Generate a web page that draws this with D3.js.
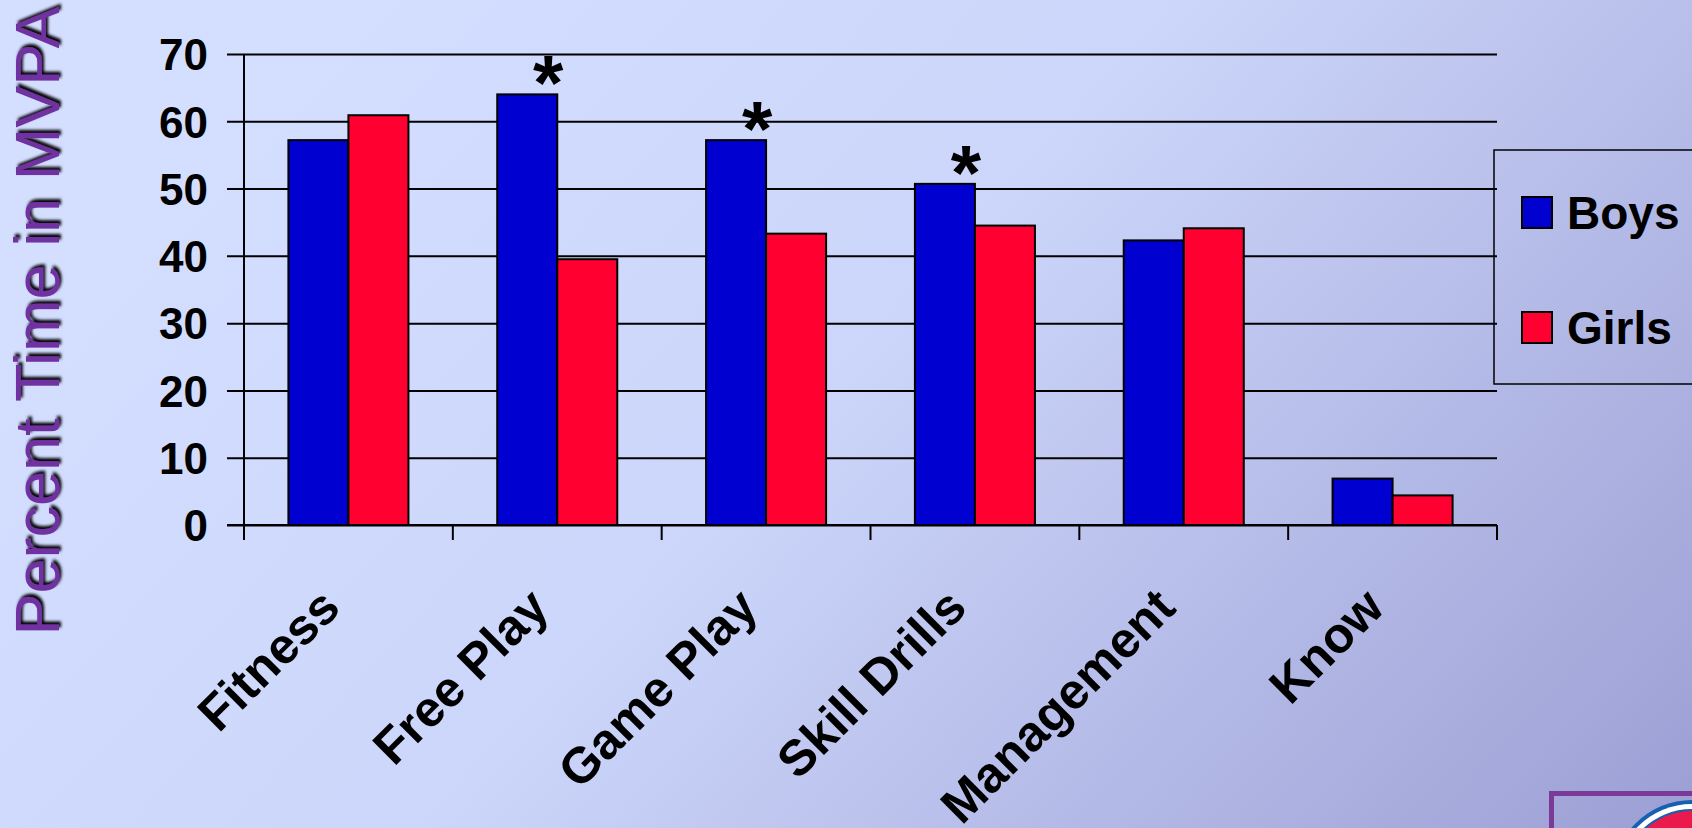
<!DOCTYPE html>
<html>
<head>
<meta charset="utf-8">
<script src="https://cdn.jsdelivr.net/npm/d3@7"></script>
<style>
  html, body { margin: 0; padding: 0; overflow: hidden; }
  svg { display: block; }
  text { font-family: "Liberation Sans", Arial, sans-serif; }
</style>
</head>
<body>
<svg id="chart" width="1692" height="828"></svg>
<script>
// ---- data ----
const categories = ["Fitness", "Free Play", "Game Play", "Skill Drills", "Management", "Know"];
const seriesNames = ["Boys", "Girls"];
const boysValues = [57.2, 64.0, 57.2, 50.7, 42.3, 6.9];
const girlsValues = [60.9, 39.5, 43.3, 44.5, 44.1, 4.4];
const significant = [false, true, true, true, false, false];
const yTickValues = [0, 10, 20, 30, 40, 50, 60, 70];
const yAxisTitle = "Percent Time in MVPA";

(function () {
// ---- layout ----
const W = 1692, H = 828;
const pLeft = 244, pRight = 1497, pTop = 54, pBottom = 525;
const colors = { Boys: "#0000d0", Girls: "#ff0030" };

const svg = d3.select("#chart");
const defs = svg.append("defs");

// background gradient
const bg = defs.append("linearGradient").attr("id", "bg")
  .attr("gradientUnits", "userSpaceOnUse")
  .attr("x1", 300).attr("y1", 0).attr("x2", 1500).attr("y2", 1100);
bg.append("stop").attr("offset", "0").attr("stop-color", "#d4deff");
bg.append("stop").attr("offset", "0.4").attr("stop-color", "#ccd6fa");
bg.append("stop").attr("offset", "1").attr("stop-color", "#9a9cd2");
svg.append("rect").attr("width", W).attr("height", H).attr("fill", "url(#bg)");

const shadow = defs.append("filter").attr("id", "shadow")
  .attr("x", "-10%").attr("y", "-10%").attr("width", "130%").attr("height", "130%");
shadow.append("feDropShadow").attr("dx", 3).attr("dy", 2).attr("stdDeviation", 1.5)
  .attr("flood-color", "#000").attr("flood-opacity", 1);

// scales
const x = d3.scaleBand().domain(categories).range([pLeft, pRight]).paddingInner(0).paddingOuter(0);
const x1 = d3.scaleBand().domain(seriesNames).range([0, x.bandwidth()]).paddingInner(0).paddingOuter(0.74);
const y = d3.scaleLinear().domain([0, 70]).range([pBottom, pTop]);

// gridlines + y axis
const yAxis = d3.axisLeft(y).tickValues(yTickValues).tickSizeInner(0).tickSizeOuter(0).tickPadding(0);
const gy = svg.append("g").attr("transform", `translate(${pLeft},0)`).call(yAxis);
gy.select(".domain").remove();
gy.selectAll(".tick line")
  .attr("x1", -17).attr("x2", pRight - pLeft)
  .attr("stroke", "#000").attr("stroke-width", 2);
gy.selectAll(".tick text")
  .attr("x", -36).attr("dy", "0.36em")
  .attr("fill", "#000").style("font-size", "44px").style("font-weight", "bold")
  .style("font-family", "'Liberation Sans', Arial, sans-serif");
// y axis line
svg.append("line").attr("x1", pLeft).attr("x2", pLeft).attr("y1", pTop).attr("y2", pBottom + 15)
  .attr("stroke", "#000").attr("stroke-width", 2);

// bars
const rows = categories.map((c, i) => ({ cat: c, vals: [
  { s: "Boys", v: boysValues[i] }, { s: "Girls", v: girlsValues[i] }], sig: significant[i] }));
const groups = svg.append("g").selectAll("g").data(rows).join("g")
  .attr("transform", d => `translate(${x(d.cat)},0)`);
groups.selectAll("rect").data(d => d.vals).join("rect")
  .attr("x", d => x1(d.s)).attr("width", x1.bandwidth())
  .attr("y", d => y(d.v)).attr("height", d => y(0) - y(d.v))
  .attr("fill", d => colors[d.s]).attr("stroke", "#000").attr("stroke-width", 2);

// significance asterisks
const astSize = 78;
groups.filter(d => d.sig).append("text")
  .attr("x", d => x1("Boys") + x1.bandwidth() - 9)
  .attr("y", d => y(d.vals[0].v) - 9 + 0.32 * astSize)
  .attr("text-anchor", "middle")
  .style("font-size", astSize + "px").style("font-weight", "bold").attr("fill", "#000")
  .text("*");

// x axis
const xAxis = d3.axisBottom(x).tickSize(0).tickPadding(0);
const gx = svg.append("g").attr("transform", `translate(0,${pBottom})`).call(xAxis);
gx.select(".domain").attr("d", `M${pLeft - 17},0H${pRight}`).attr("stroke", "#000").attr("stroke-width", 2);
gx.selectAll(".tick text")
  .attr("transform", "translate(-6,85) rotate(-45)")
  .attr("text-anchor", "end").attr("dy", 0).attr("y", 0).attr("x", 0)
  .attr("fill", "#000").style("font-size", "50px").style("font-weight", "bold")
  .style("font-family", "'Liberation Sans', Arial, sans-serif");
// category boundary ticks
const bounds = categories.map(c => x(c)).concat([pRight]);
svg.append("g").selectAll("line").data(bounds).join("line")
  .attr("x1", d => d).attr("x2", d => d).attr("y1", pBottom).attr("y2", pBottom + 15)
  .attr("stroke", "#000").attr("stroke-width", 2);

// y axis title
svg.append("text")
  .attr("transform", `translate(59,${(10 + 632) / 2}) rotate(-90)`)
  .attr("text-anchor", "middle")
  .attr("fill", "#7030a0").style("font-size", "63px")
  .attr("filter", "url(#shadow)")
  .text(yAxisTitle);

// legend
const lg = svg.append("g");
lg.append("rect").attr("x", 1494).attr("y", 150).attr("width", 260).attr("height", 234)
  .attr("fill", "none").attr("stroke", "#000").attr("stroke-width", 1.5);
const legendRows = seriesNames.map((s, i) => ({ s, i }));
const li = lg.selectAll("g").data(legendRows).join("g")
  .attr("transform", d => `translate(1522,${197 + d.i * 115})`);
li.append("rect").attr("width", 30).attr("height", 31)
  .attr("fill", d => colors[d.s]).attr("stroke", "#000").attr("stroke-width", 2);
li.append("text").attr("x", 45).attr("y", 32)
  .style("font-size", "46px").style("font-weight", "bold").attr("fill", "#000")
  .text(d => d.s);

// logo corner
const logo = svg.append("g");
logo.append("rect").attr("x", 1551.5).attr("y", 793.5).attr("width", 200).attr("height", 100)
  .attr("fill", "none").attr("stroke", "#7b3a98").attr("stroke-width", 5);
logo.append("circle").attr("cx", 1692).attr("cy", 880).attr("r", 80).attr("fill", "#1560b0");
logo.append("circle").attr("cx", 1692).attr("cy", 880).attr("r", 76).attr("fill", "#ffffff");
logo.append("circle").attr("cx", 1692).attr("cy", 880).attr("r", 71).attr("fill", "#1560b0");
logo.append("circle").attr("cx", 1692).attr("cy", 880).attr("r", 69).attr("fill", "#ea1a4c");
})();
</script>
</body>
</html>
